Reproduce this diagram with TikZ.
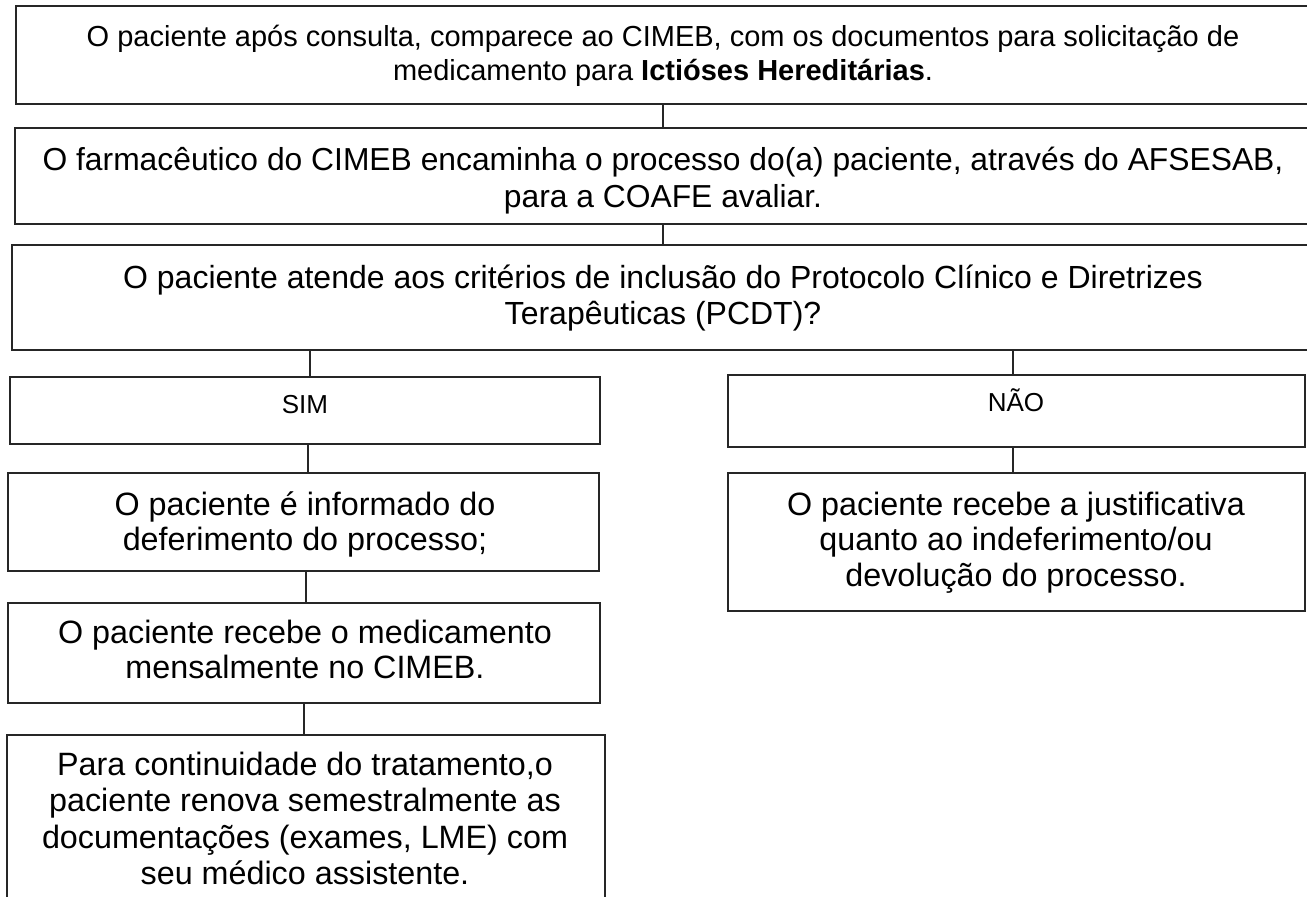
\documentclass[tikz,border=0pt]{standalone}
\usepackage{fontspec}
\setmainfont{Liberation Sans}
\newcommand{\mylines}[1]{\begin{tabular}[t]{@{}c@{}}#1\end{tabular}}
\begin{document}
\begin{tikzpicture}[x=1bp,y=-1bp,
  box/.style={draw=black!85,line width=1.4bp,rectangle,inner sep=0pt,outer sep=0pt},
  txt/.style={anchor=base,inner sep=0pt,outer sep=0pt,text=black},
  conn/.style={draw=black!85,line width=1.4bp}]
\useasboundingbox (0,0) rectangle (1307,896);
\clip (0,0) rectangle (1307,896);
% boxes
\node[box,anchor=north west,minimum width=1294bp,minimum height=98bp] (b1) at (16,6) {};
\node[box,anchor=north west,minimum width=1295bp,minimum height=96bp] (b2) at (15,128) {};
\node[box,anchor=north west,minimum width=1302bp,minimum height=105bp] (b3) at (12,245) {};
\node[box,anchor=north west,minimum width=590bp,minimum height=67bp] (sim) at (10,377) {};
\node[box,anchor=north west,minimum width=577bp,minimum height=72bp] (nao) at (728,375) {};
\node[box,anchor=north west,minimum width=591bp,minimum height=98bp] (s1) at (8,473) {};
\node[box,anchor=north west,minimum width=592bp,minimum height=100bp] (s2) at (8,603) {};
\node[box,anchor=north west,minimum width=598bp,minimum height=200bp] (s3) at (7,735) {};
\node[box,anchor=north west,minimum width=577bp,minimum height=138bp] (n1) at (728,473) {};
% texts
\node[txt,font=\fontsize{29bp}{34bp}\selectfont] (t1) at (663,46) {\mylines{O paciente após consulta, comparece ao CIMEB, com os documentos para solicitação de\\ medicamento para \textbf{Ictióses Hereditárias}.}};
\node[txt,font=\fontsize{31.8bp}{37bp}\selectfont] (t2) at (663,170) {\mylines{O farmacêutico do CIMEB encaminha o processo do(a) paciente, através do AFSESAB,\\ para a COAFE avaliar.}};
\node[txt,font=\fontsize{32bp}{36bp}\selectfont] (t3) at (663,288) {\mylines{O paciente atende aos critérios de inclusão do Protocolo Clínico e Diretrizes\\ Terapêuticas (PCDT)?}};
\node[txt,font=\fontsize{26bp}{30bp}\selectfont] (tsim) at (305,413) {SIM};
\node[txt,font=\fontsize{26bp}{30bp}\selectfont] (tnao) at (1016,411) {NÃO};
\node[txt,font=\fontsize{32.3bp}{35.5bp}\selectfont] (ts1) at (305,515) {\mylines{O paciente é informado do\\ deferimento do processo;}};
\node[txt,font=\fontsize{32.3bp}{35.5bp}\selectfont] (ts2) at (305,643) {\mylines{O paciente recebe o medicamento\\ mensalmente no CIMEB.}};
\node[txt,font=\fontsize{32.3bp}{36.5bp}\selectfont] (ts3) at (305,775) {\mylines{Para continuidade do tratamento,o\\ paciente renova semestralmente as\\ documentações (exames, LME) com\\ seu médico assistente.}};
\node[txt,font=\fontsize{32.3bp}{35.5bp}\selectfont] (tn1) at (1016,515) {\mylines{O paciente recebe a justificativa\\ quanto ao indeferimento/ou\\ devolução do processo.}};
% connectors
\draw[conn] (b1.south -| 663,0) -- (b2.north -| 663,0);
\draw[conn] (b2.south -| 663,0) -- (b3.north -| 663,0);
\draw[conn] (b3.south -| 310,0) -- (sim.north -| 310,0);
\draw[conn] (b3.south -| 1013,0) -- (nao.north -| 1013,0);
\draw[conn] (sim.south -| 308,0) -- (s1.north -| 308,0);
\draw[conn] (s1.south -| 306,0) -- (s2.north -| 306,0);
\draw[conn] (s2.south -| 304,0) -- (s3.north -| 304,0);
\draw[conn] (nao.south -| 1013,0) -- (n1.north -| 1013,0);
\end{tikzpicture}
\end{document}
